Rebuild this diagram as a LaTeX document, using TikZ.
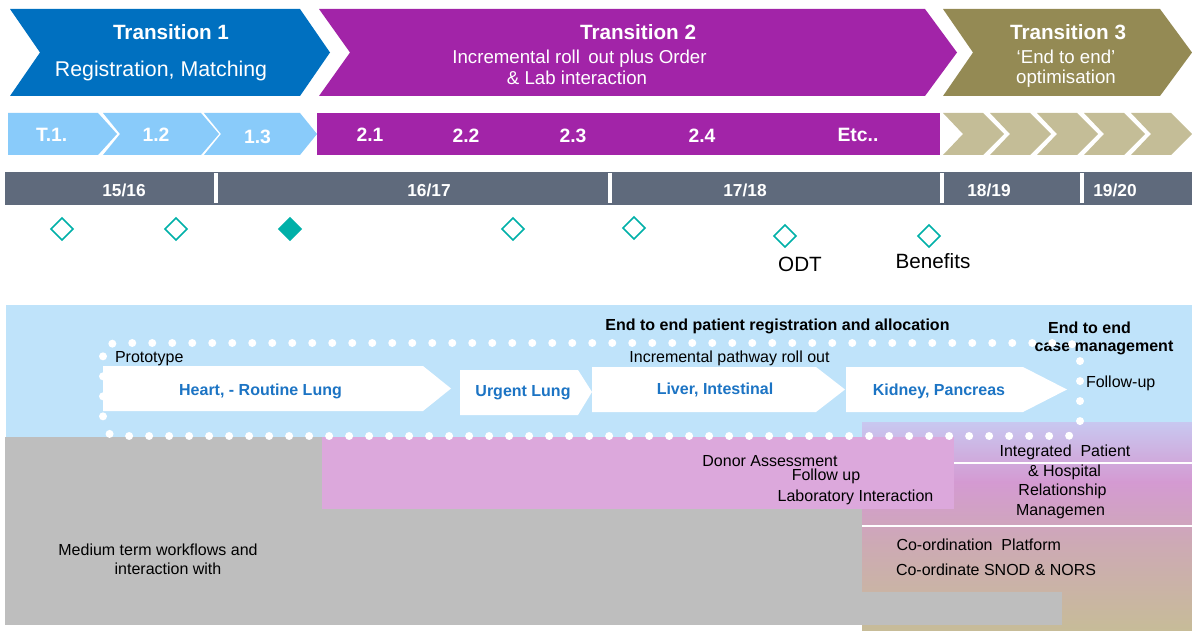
\documentclass[tikz,border=0pt]{standalone}
\usepackage{fontspec}
\setmainfont{Liberation Sans}
\usetikzlibrary{shapes.geometric}
\definecolor{tblue}{HTML}{0070C0}
\definecolor{tpurple}{HTML}{A224A8}
\definecolor{tolive}{HTML}{948A54}
\definecolor{lchev}{HTML}{89CBFA}
\definecolor{tanchev}{HTML}{C4BD97}
\definecolor{greybar}{HTML}{5F6A7C}
\definecolor{teal}{HTML}{00B0A8}
\definecolor{bgblue}{HTML}{BFE3FA}
\definecolor{greyarea}{HTML}{BEBEBE}
\definecolor{pinkarea}{HTML}{DCA8DC}
\definecolor{lavc}{HTML}{C8C8F0}
\definecolor{pinkc}{HTML}{D49AD2}
\definecolor{midc}{HTML}{CDAAB4}
\definecolor{tanc}{HTML}{C7BC98}
\definecolor{chevtext}{HTML}{1C74C4}
\begin{document}
\begin{tikzpicture}[x=0.75pt,y=-0.75pt,
  every node/.style={inner sep=0pt, outer sep=0pt},
  ttl/.style={text=white, font=\fontsize{15.5}{18}\selectfont\bfseries, anchor=base},
  sub/.style={text=white, font=\fontsize{14}{16}\selectfont, anchor=base},
  subbig/.style={text=white, font=\fontsize{16}{18}\selectfont, anchor=base},
  num/.style={text=white, font=\fontsize{14.5}{16}\selectfont\bfseries, anchor=base},
  yr/.style={text=white, font=\fontsize{13}{15}\selectfont\bfseries, anchor=base},
  ms/.style={diamond, draw=teal, line width=1.1pt, minimum width=16.5pt, minimum height=16.5pt, fill=white},
  mslbl/.style={text=black, font=\fontsize{15.5}{18}\selectfont, anchor=base},
  txt/.style={text=black, font=\fontsize{12}{14}\selectfont, anchor=base},
  btxt/.style={text=black, font=\fontsize{12}{14}\selectfont\bfseries, anchor=base},
  ctxt/.style={text=chevtext, font=\fontsize{12}{14}\selectfont\bfseries, anchor=base},
  divider/.style={white, line width=2.4pt},
  wline/.style={white, line width=1.8pt}
]
\useasboundingbox (0,0) rectangle (1192,631);

% ---- top transitions
\fill[tblue] (10,9) -- (300,9) -- (330,52.5) -- (300,96) -- (10,96) -- (40,52.5) -- cycle;
\fill[tpurple] (319,9) -- (925,9) -- (957,52.5) -- (925,96) -- (319,96) -- (350,52.5) -- cycle;
\fill[tolive] (943,9) -- (1160,9) -- (1192,52.5) -- (1160,96) -- (943,96) -- (973,52.5) -- cycle;
\node[ttl] (t1) at (171,39.5) {Transition 1};
\node[subbig] (t1s) at (161,77) {Registration, Matching};
\node[ttl] (t2) at (638,39.5) {Transition 2};
\node[sub] (t2a) at (579.5,63.3) {Incremental roll\, out plus Order};
\node[sub] (t2b) at (577,85) {\& Lab interaction};
\node[ttl] (t3) at (1068,39.5) {Transition 3};
\node[sub] (t3a) at (1066,63.3) {‘End to end’};
\node[sub] (t3b) at (1066,84) {optimisation};

% ---- second row
\fill[lchev] (8,113) -- (98,113) -- (117,134) -- (98,155) -- (8,155) -- cycle;
\fill[lchev] (103,113) -- (201,113) -- (219,134) -- (201,155) -- (103,155) -- (120,134) -- cycle;
\fill[lchev] (204,113) -- (300,113) -- (317,134) -- (300,155) -- (204,155) -- (221,134) -- cycle;
\fill[tpurple] (317,113) rectangle (940,155);
\foreach \k in {0,...,4}{
  \pgfmathsetmacro{\L}{943+47*\k}
  \fill[tanchev] (\L,113) -- (\L+40,113) -- (\L+61,134) -- (\L+40,155) -- (\L,155) -- (\L+20,134) -- cycle;
}
\node[num] (n11) at (51.7,141.7) {T.1.};
\node[num] (n12) at (156,141.7) {1.2};
\node[num] (n13) at (257.5,143.5) {1.3};
\node[num] (n21) at (370,141.7) {2.1};
\node[num] (n22) at (466,142.2) {2.2};
\node[num] (n23) at (573,142.2) {2.3};
\node[num] (n24) at (702,142.2) {2.4};
\node[num] (netc) at (858,141.7) {Etc..};

% ---- year bar
\fill[greybar] (5,172) rectangle (1192,205);
\foreach \xx in {216,610,942,1082}{
  \draw[divider] (\xx,173.5) -- (\xx,203.5);
}
\node[yr] (y1) at (124,196) {15/16};
\node[yr] (y2) at (429,196) {16/17};
\node[yr] (y3) at (745,196) {17/18};
\node[yr] (y4) at (989,196) {18/19};
\node[yr] (y5) at (1115,196) {19/20};

% ---- milestones
\node[ms] (m1) at (62,229) {};
\node[ms] (m2) at (176,229) {};
\node[ms, fill=teal] (m3) at (290,229) {};
\node[ms] (m4) at (513,229) {};
\node[ms] (m5) at (634,228) {};
\node[ms] (m6) at (785,236) {};
\node[ms] (m7) at (929,236) {};
\node[mslbl] (odt) at (800,271.5) {ODT};
\node[mslbl] (ben) at (933,268) {Benefits};

% ---- lower area backgrounds
\fill[bgblue] (6,305) rectangle (1192,437);
\fill[greyarea] (5,437) rectangle (862,625);
\shade[top color=lavc, bottom color=pinkc] (862,422) rectangle (1192,482);
\shade[top color=pinkc, bottom color=midc] (862,481.5) rectangle (1192,545);
\shade[top color=midc, bottom color=tanc] (862,544.5) rectangle (1192,631);
\fill[greyarea] (861,592) rectangle (1062,625);
\draw[wline] (954,463) -- (1192,463);
\draw[wline] (862,526) -- (1192,526);
\fill[pinkarea] (322,437) rectangle (954,509);

% ---- pathway chevrons
\fill[white] (103,366) -- (423,366) -- (451,388.5) -- (423,411) -- (103,411) -- cycle;
\fill[white] (460,370) -- (578,370) -- (592,392) -- (578,415) -- (460,415) -- cycle;
\fill[white] (592,367) -- (816,367) -- (845,389.5) -- (816,412) -- (592,412) -- cycle;
\fill[white] (846,367) -- (1023,367) -- (1067,389.5) -- (1023,412) -- (846,412) -- cycle;
\node[ctxt] (heart) at (260.5,395.5) {Heart, - Routine Lung};
\node[ctxt] (urgent) at (523,396.5) {Urgent Lung};
\node[ctxt] (liver) at (715,394) {Liver, Intestinal};
\node[ctxt] (kidney) at (939,395) {Kidney, Pancreas};

% ---- labels in blue area
\node[txt, anchor=base west] (proto) at (115,362) {Prototype};
\node[txt] (incr) at (729.5,362.3) {Incremental pathway roll out};
\node[btxt] (e2e) at (777.5,330.7) {End to end patient registration and allocation};
\node[btxt] (e2ecm1) at (1089.5,333.3) {End to end};
\node[btxt] (e2ecm2) at (1104,351.7) {case management};
\node[txt, anchor=base west] (fu) at (1086,387.3) {Follow-up};

% ---- labels in lower area
\node[txt] (donor) at (770,466) {Donor Assessment};
\node[txt] (fup) at (826,480) {Follow up};
\node[txt] (lab) at (855.5,501) {Laboratory Interaction};
\node[txt] (ip1) at (1065,456) {Integrated\ \ Patient};
\node[txt] (ip2) at (1064.5,476) {\& Hospital};
\node[txt] (ip3) at (1062.5,495) {Relationship};
\node[txt] (ip4) at (1060.5,515) {Managemen};
\node[txt, anchor=base west] (co1) at (896.5,550.7) {Co-ordination\ \ Platform};
\node[txt, anchor=base west] (co2) at (896,575.7) {Co-ordinate SNOD \& NORS};
\node[txt] (med1) at (158,555) {Medium term workflows and};
\node[txt] (med2) at (168,574.3) {interaction with};

% ---- dotted frame
\draw[white, line width=6pt, line cap=round, dash pattern=on 0pt off 15pt, rounded corners=10pt]
  (103,343) rectangle (1080,436);
\end{tikzpicture}
\end{document}
